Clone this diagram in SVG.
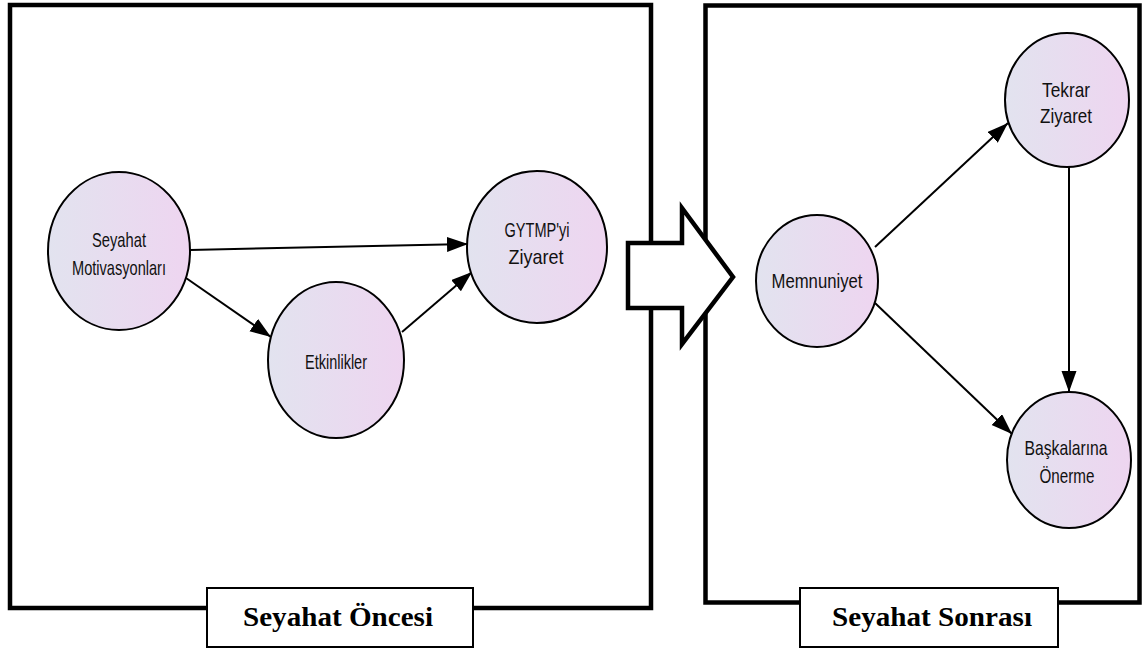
<svg xmlns="http://www.w3.org/2000/svg" width="1146" height="651" viewBox="0 0 1146 651">
  <defs>
    <linearGradient id="nodeFill" x1="0" y1="0" x2="1" y2="0">
      <stop offset="0" stop-color="#e2e3ef"/>
      <stop offset="1" stop-color="#eed5f0"/>
    </linearGradient>
    <marker id="arrow" markerUnits="userSpaceOnUse" markerWidth="24" markerHeight="16" refX="21" refY="7.5" orient="auto">
      <path d="M0,0 L21,7.5 L0,15 z" fill="#000"/>
    </marker>
    <style>
      .frame { fill: none; stroke: #000; stroke-width: 4.5; }
      .label-box { fill: #fff; stroke: #000; stroke-width: 2; }
      .label { font-family: "Liberation Serif", "Times New Roman", serif; font-weight: bold; font-size: 28px; fill: #000; text-anchor: middle; }
      .node ellipse { fill: url(#nodeFill); stroke: #000; stroke-width: 2; }
      .node text { font-family: "Liberation Sans", Arial, sans-serif; font-size: 21px; fill: #111; text-anchor: middle; }
      .edge { stroke: #000; stroke-width: 2; fill: none; marker-end: url(#arrow); }
    </style>
  </defs>

  <rect width="1146" height="651" fill="#fff"/>

  <!-- Stage frames -->
  <g id="frame-before">
    <rect class="frame" x="10" y="5" width="641" height="603"/>
  </g>
  <g id="frame-after">
    <rect class="frame" x="705.5" y="5.5" width="434" height="597"/>
  </g>

  <!-- Transition arrow between stages -->
  <g id="stage-arrow">
    <polygon points="628,243 682,243 682,208 733,277 682,344 682,308 628,308" fill="#fff" stroke="#000" stroke-width="4.5" stroke-linejoin="miter"/>
  </g>

  <!-- Connectors -->
  <g id="connectors">
    <line class="edge" x1="190" y1="250" x2="468" y2="244"/>
    <line class="edge" x1="186" y1="278" x2="271" y2="337"/>
    <line class="edge" x1="402" y1="332" x2="472" y2="272"/>
    <line class="edge" x1="875" y1="247" x2="1008" y2="123"/>
    <line class="edge" x1="875" y1="303" x2="1012" y2="434"/>
    <line class="edge" x1="1069" y1="167" x2="1069" y2="392"/>
  </g>

  <!-- Nodes -->
  <g id="node-motivasyon" class="node">
    <ellipse cx="119" cy="251" rx="71" ry="79"/>
    <text x="119" y="247" textLength="54" lengthAdjust="spacingAndGlyphs">Seyahat</text>
    <text x="119" y="275" textLength="94" lengthAdjust="spacingAndGlyphs">Motivasyonları</text>
  </g>
  <g id="node-etkinlikler" class="node">
    <ellipse cx="336" cy="360" rx="68" ry="78"/>
    <text x="336" y="369" textLength="62" lengthAdjust="spacingAndGlyphs">Etkinlikler</text>
  </g>
  <g id="node-gytmp" class="node">
    <ellipse cx="537" cy="247" rx="70" ry="76"/>
    <text x="537" y="237" textLength="65" lengthAdjust="spacingAndGlyphs">GYTMP'yi</text>
    <text x="536" y="264" textLength="55" lengthAdjust="spacingAndGlyphs">Ziyaret</text>
  </g>
  <g id="node-memnuniyet" class="node">
    <ellipse cx="817" cy="281" rx="61" ry="66"/>
    <text x="817" y="288" textLength="91" lengthAdjust="spacingAndGlyphs">Memnuniyet</text>
  </g>
  <g id="node-tekrar" class="node">
    <ellipse cx="1067" cy="100" rx="62" ry="67"/>
    <text x="1066" y="97" textLength="48" lengthAdjust="spacingAndGlyphs">Tekrar</text>
    <text x="1066" y="123" textLength="52" lengthAdjust="spacingAndGlyphs">Ziyaret</text>
  </g>
  <g id="node-baskalarina" class="node">
    <ellipse cx="1069" cy="460" rx="62" ry="68"/>
    <text x="1066" y="455" textLength="83" lengthAdjust="spacingAndGlyphs">Başkalarına</text>
    <text x="1067" y="483" textLength="55" lengthAdjust="spacingAndGlyphs">Önerme</text>
  </g>

  <!-- Stage labels -->
  <g id="label-before">
    <rect class="label-box" x="207" y="588" width="266" height="59"/>
    <text class="label" x="338" y="626" textLength="190" lengthAdjust="spacingAndGlyphs">Seyahat Öncesi</text>
  </g>
  <g id="label-after">
    <rect class="label-box" x="800" y="588" width="258" height="59"/>
    <text class="label" x="932" y="626" textLength="200" lengthAdjust="spacingAndGlyphs">Seyahat Sonrası</text>
  </g>
</svg>
